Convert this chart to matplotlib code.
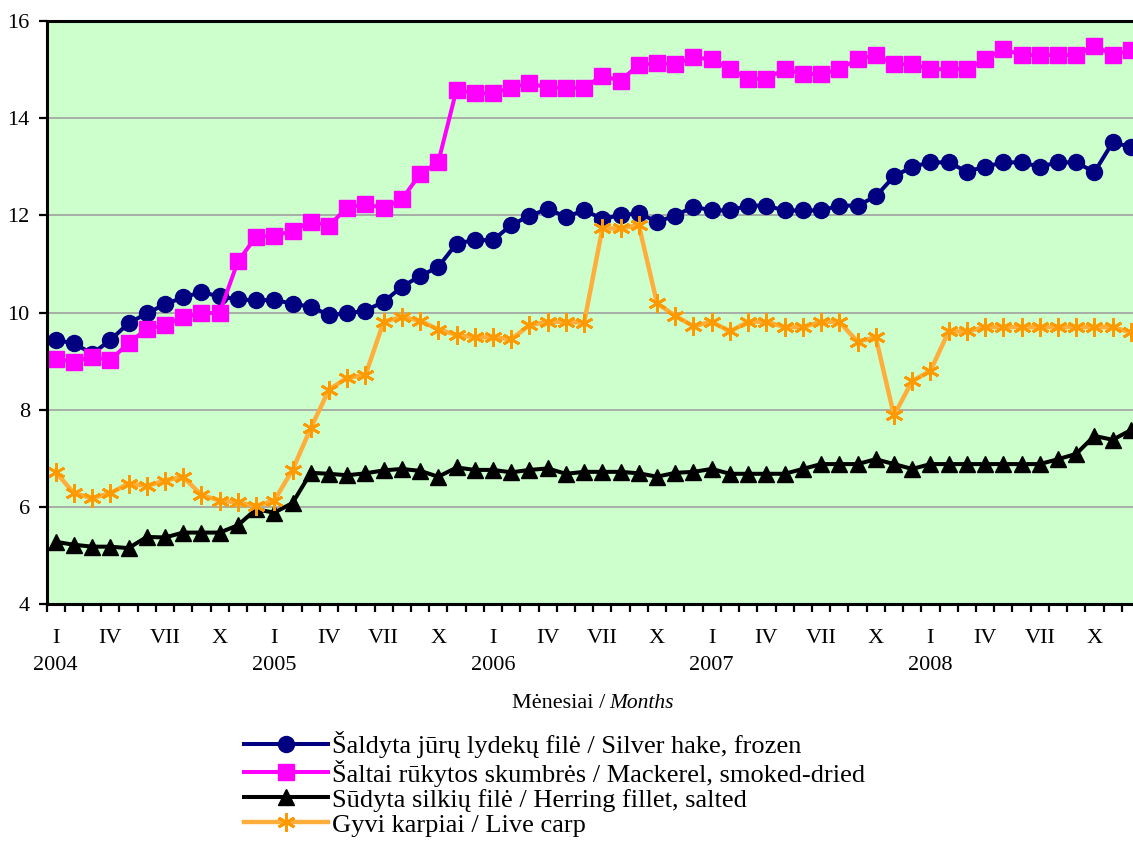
import matplotlib
matplotlib.use('Agg')
import matplotlib.pyplot as plt
import numpy as np

# ---------------- data ----------------
years = ['2004', '2005', '2006', '2007', '2008']
quarter_months = ['I', 'IV', 'VII', 'X']

hake = [9.43, 9.37, 9.15, 9.43, 9.78, 9.98, 10.17, 10.31, 10.42, 10.33, 10.27, 10.25,
        10.26, 10.18, 10.12, 9.95, 9.98, 10.04, 10.22, 10.53, 10.75, 10.94, 11.42, 11.49,
        11.49, 11.80, 11.99, 12.13, 11.97, 12.10, 11.93, 12.00, 12.04, 11.87, 11.99, 12.18,
        12.10, 12.10, 12.20, 12.20, 12.10, 12.10, 12.10, 12.20, 12.20, 12.39, 12.80, 13.00,
        13.09, 13.09, 12.90, 13.00, 13.09, 13.09, 13.00, 13.09, 13.09, 12.89, 13.50, 13.41]

mackerel = [9.04, 8.99, 9.09, 9.02, 9.37, 9.66, 9.74, 9.91, 9.98, 10.00, 11.05, 11.56,
            11.58, 11.68, 11.87, 11.79, 12.16, 12.23, 12.15, 12.33, 12.85, 13.10, 14.59, 14.51,
            14.51, 14.63, 14.72, 14.63, 14.62, 14.63, 14.87, 14.77, 15.10, 15.13, 15.11, 15.25,
            15.21, 15.01, 14.81, 14.81, 15.01, 14.91, 14.91, 15.01, 15.21, 15.30, 15.11, 15.11,
            15.01, 15.01, 15.01, 15.21, 15.42, 15.30, 15.30, 15.30, 15.30, 15.49, 15.30, 15.40]

herring = [5.28, 5.22, 5.18, 5.18, 5.15, 5.38, 5.37, 5.47, 5.47, 5.47, 5.62, 5.95,
           5.88, 6.08, 6.70, 6.68, 6.65, 6.69, 6.75, 6.78, 6.74, 6.62, 6.81, 6.76,
           6.76, 6.71, 6.76, 6.79, 6.68, 6.72, 6.72, 6.72, 6.69, 6.62, 6.70, 6.72,
           6.78, 6.68, 6.68, 6.68, 6.68, 6.78, 6.88, 6.88, 6.88, 6.98, 6.88, 6.78,
           6.88, 6.88, 6.88, 6.88, 6.88, 6.88, 6.88, 6.98, 7.09, 7.46, 7.38, 7.58]

carp = [6.72, 6.28, 6.18, 6.28, 6.48, 6.43, 6.54, 6.62, 6.24, 6.13, 6.09, 6.02,
        6.13, 6.76, 7.62, 8.41, 8.66, 8.71, 9.81, 9.91, 9.83, 9.65, 9.54, 9.49,
        9.49, 9.45, 9.74, 9.81, 9.81, 9.79, 11.73, 11.73, 11.80, 10.19, 9.93, 9.72,
        9.81, 9.61, 9.81, 9.81, 9.70, 9.70, 9.81, 9.81, 9.40, 9.49, 7.88, 8.59,
        8.80, 9.61, 9.61, 9.70, 9.70, 9.70, 9.70, 9.70, 9.70, 9.70, 9.70, 9.59]

series_names = [
    'Šaldyta jūrų lydekų filė / Silver hake, frozen',
    'Šaltai rūkytos skumbrės / Mackerel, smoked-dried',
    'Sūdyta silkių filė / Herring fillet, salted',
    'Gyvi karpiai / Live carp',
]
xlabel_lt = 'Mėnesiai /'
xlabel_en = 'Months'

# ---------------- figure ----------------
plt.rcParams['font.family'] = ['Liberation Serif', 'DejaVu Serif']
W, H = 1133, 841
fig = plt.figure(figsize=(W / 100, H / 100), dpi=100)
fig.patch.set_facecolor('white')

left_px, right_px, top_px, bot_px = 46.5, 1140.0, 21.0, 604.0
ax = fig.add_axes([left_px / W, (H - bot_px) / H, (right_px - left_px) / W, (bot_px - top_px) / H])
ax.set_facecolor('#CCFFCC')

x = np.arange(len(hake))
styles = [
    dict(color='#000080', lw=2.9, marker='o', ms=11.5, mfc='#000080', mec='#000080'),
    dict(color='#FF00FF', lw=2.9, marker='s', ms=11.0, mfc='#FF00FF', mec='#FF00FF'),
    dict(color='#000000', lw=2.9, marker='^', ms=11.5, mfc='#000000', mec='#000000'),
    dict(color='#FFAD3B', lw=3.2, marker=(6, 2, 0), ms=13, mfc='#FF9900', mec='#FF9900', mew=2.0),
]
handles = []
for vals, st, name in zip([hake, mackerel, herring, carp], styles, series_names):
    ln, = ax.plot(x, vals, label=name, solid_joinstyle='round', **st)
    handles.append(ln)

ax.set_xlim(-0.5, len(hake) - 0.5)
ax.set_ylim(4, 16)
ax.set_yticks(np.arange(4, 17, 2))
ax.yaxis.grid(True, color='#A0A0A0', lw=1.2)
ax.set_axisbelow(True)

# x tick labels: quarter months and years
pos, labs = [], []
for yi, yr in enumerate(years):
    for qi, q in enumerate(quarter_months):
        pos.append(12 * yi + 3 * qi)
        labs.append(q + '\n' + yr if qi == 0 else q)
ax.set_xticks(pos)
ax.set_xticklabels(labs, fontsize=16, linespacing=1.55, va='top')
ax.tick_params(axis='x', which='major', length=0, pad=18)
ax.set_xticks(np.arange(-0.5, len(hake), 1), minor=True)
ax.tick_params(axis='x', which='minor', length=6, width=1.6, direction='out', color='black')
ax.tick_params(axis='y', which='major', length=6, width=1.6, direction='out', labelsize=16, pad=6)

for s in ax.spines.values():
    s.set_color('black')
    s.set_linewidth(2.2)

# x axis title (mixed styles)
ty = 1 - 703 / H
fig.text(605 / W, ty, xlabel_lt, ha='right', va='center', fontsize=16)
fig.text(609 / W, ty, xlabel_en, ha='left', va='center', fontsize=15.5, style='italic')

# legend
fs_px = 19 * 100 / 72
leg = fig.legend(handles=handles, labels=series_names, loc='upper left',
                 bbox_to_anchor=(244 / W, 1 - 731 / H), frameon=False,
                 fontsize=19, handlelength=84 / fs_px, handletextpad=0.15,
                 labelspacing=0.06, borderpad=0, borderaxespad=0, numpoints=1)

fig.savefig('out.png', dpi=100)
